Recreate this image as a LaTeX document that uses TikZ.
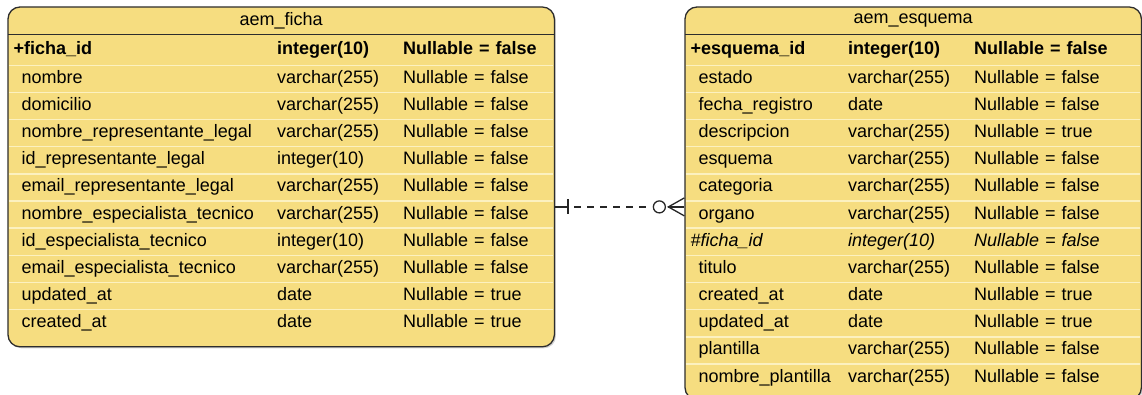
\documentclass[tikz,border=0pt]{standalone}
\usepackage{fontspec}
\setmainfont{Liberation Sans}
\usepackage{tikz}
\usetikzlibrary{positioning, fit, backgrounds, shadows}

\definecolor{entityyellow}{RGB}{246,221,128}
\definecolor{rulecream}{RGB}{252,241,192}
\definecolor{entityborder}{RGB}{45,45,45}

\newlength{\namecol}
\newlength{\typecol}
\setlength{\typecol}{126pt}
\newcommand{\erfont}{\fontsize{18pt}{21pt}\selectfont}
\newcommand{\keyattr}[3]{\makebox[\namecol][l]{#1}\makebox[\typecol][l]{#2}#3}
\newcommand{\attr}[3]{\makebox[\namecol][l]{\hspace*{8pt}#1}\makebox[\typecol][l]{#2}#3}

\tikzstyle{entity} = [rectangle, rounded corners=12pt, draw=entityborder, line width=1.3pt, fill=entityyellow, inner sep=0pt, drop shadow={shadow xshift=1.5pt, shadow yshift=-1.5pt, opacity=0.35}]
\tikzstyle{tablehead} = [rectangle, minimum height=27pt, inner xsep=5.5pt, inner ysep=0pt, align=center, font=\erfont]
\tikzstyle{attrrow} = [rectangle, minimum height=26.75pt, inner xsep=5.5pt, inner ysep=0pt, text height=13pt, text depth=4pt, align=left, font=\erfont]
\tikzstyle{keyrow} = [attrrow, minimum height=30.5pt, font=\erfont\bfseries]
\tikzstyle{headrule} = [draw=entityborder, line width=1.2pt]
\tikzstyle{rowrule} = [draw=rulecream, line width=1.5pt, shorten <=1pt, shorten >=1pt]
\tikzstyle{relation} = [draw=black!85, line width=1.3pt]

\begin{document}
\begin{tikzpicture}[x=1pt, y=1pt]
\useasboundingbox (0,0) rectangle (1142,-395);

% Table aem_ficha
\setlength{\namecol}{263.5pt}
\begin{scope}[nodes={text width=535pt}]
\node (ftitle) [tablehead, anchor=north west] at (8,-7) {aem\_ficha};
\node (f1) [keyrow, below=0pt of ftitle] {\keyattr{+ficha\_id}{integer(10)}{Nullable = false}};
\node (f2) [attrrow, below=0pt of f1] {\attr{nombre}{varchar(255)}{Nullable = false}};
\node (f3) [attrrow, below=0pt of f2] {\attr{domicilio}{varchar(255)}{Nullable = false}};
\node (f4) [attrrow, below=0pt of f3] {\attr{nombre\_representante\_legal}{varchar(255)}{Nullable = false}};
\node (f5) [attrrow, below=0pt of f4] {\attr{id\_representante\_legal}{integer(10)}{Nullable = false}};
\node (f6) [attrrow, below=0pt of f5] {\attr{email\_representante\_legal}{varchar(255)}{Nullable = false}};
\node (f7) [attrrow, below=0pt of f6] {\attr{nombre\_especialista\_tecnico}{varchar(255)}{Nullable = false}};
\node (f8) [attrrow, below=0pt of f7] {\attr{id\_especialista\_tecnico}{integer(10)}{Nullable = false}};
\node (f9) [attrrow, below=0pt of f8] {\attr{email\_especialista\_tecnico}{varchar(255)}{Nullable = false}};
\node (f10) [attrrow, below=0pt of f9] {\attr{updated\_at}{date}{Nullable = true}};
\node (f11) [attrrow, below=0pt of f10] {\attr{created\_at}{date}{Nullable = true}};
\end{scope}
\coordinate (fbottom) at ([yshift=-10pt]f11.south);
\begin{scope}[on background layer]
\node (ficha) [entity, fit=(ftitle)(f11)(fbottom)] {};
\end{scope}
\draw [headrule] (ftitle.south west) -- (ftitle.south east);
\foreach \r in {2,...,11} \draw [rowrule] (f\r.north west) -- (f\r.north east);

% Table aem_esquema
\setlength{\namecol}{157.5pt}
\begin{scope}[nodes={text width=445pt}]
\node (etitle) [tablehead, anchor=north west] at (685,-7) {aem\_esquema};
\node (e1) [keyrow, below=0pt of etitle] {\keyattr{+esquema\_id}{integer(10)}{Nullable = false}};
\node (e2) [attrrow, below=0pt of e1] {\attr{estado}{varchar(255)}{Nullable = false}};
\node (e3) [attrrow, below=0pt of e2] {\attr{fecha\_registro}{date}{Nullable = false}};
\node (e4) [attrrow, below=0pt of e3] {\attr{descripcion}{varchar(255)}{Nullable = true}};
\node (e5) [attrrow, below=0pt of e4] {\attr{esquema}{varchar(255)}{Nullable = false}};
\node (e6) [attrrow, below=0pt of e5] {\attr{categoria}{varchar(255)}{Nullable = false}};
\node (e7) [attrrow, below=0pt of e6] {\attr{organo}{varchar(255)}{Nullable = false}};
\node (e8) [attrrow, font=\erfont\itshape, below=0pt of e7] {\keyattr{\#ficha\_id}{integer(10)}{Nullable = false}};
\node (e9) [attrrow, below=0pt of e8] {\attr{titulo}{varchar(255)}{Nullable = false}};
\node (e10) [attrrow, below=0pt of e9] {\attr{created\_at}{date}{Nullable = true}};
\node (e11) [attrrow, below=0pt of e10] {\attr{updated\_at}{date}{Nullable = true}};
\node (e12) [attrrow, below=0pt of e11] {\attr{plantilla}{varchar(255)}{Nullable = false}};
\node (e13) [attrrow, below=0pt of e12] {\attr{nombre\_plantilla}{varchar(255)}{Nullable = false}};
\end{scope}
\coordinate (ebottom) at ([yshift=-8.5pt]e13.south);
\begin{scope}[on background layer]
\node (esquema) [entity, fit=(etitle)(e13)(ebottom)] {};
\end{scope}
\draw [headrule] (etitle.south west) -- (etitle.south east);
\foreach \r in {2,...,13} \draw [rowrule] (e\r.north west) -- (e\r.north east);

% Relationship: one aem_ficha, zero or many aem_esquema
\coordinate (fkout) at ([yshift=-30pt]ficha.east);
\coordinate (fkin) at (esquema.west |- fkout);
\draw [relation] (fkout) -- ++(13,0) coordinate (onebar);
\draw [relation] ([yshift=7.5pt]onebar) -- ([yshift=-7.5pt]onebar);
\node (zero) [circle, draw=black!85, line width=1.3pt, minimum size=12pt, inner sep=0pt] at ([xshift=-25pt]fkin) {};
\draw [relation, dash pattern=on 7pt off 6pt, dash phase=7pt] (onebar) -- ([xshift=-4pt]zero.west);
\coordinate (crow) at ([xshift=-16pt]fkin);
\draw [relation] ([yshift=9pt]fkin) -- (crow) -- ([yshift=-9pt]fkin);
\draw [relation] (crow) -- (fkin);

\end{tikzpicture}
\end{document}
